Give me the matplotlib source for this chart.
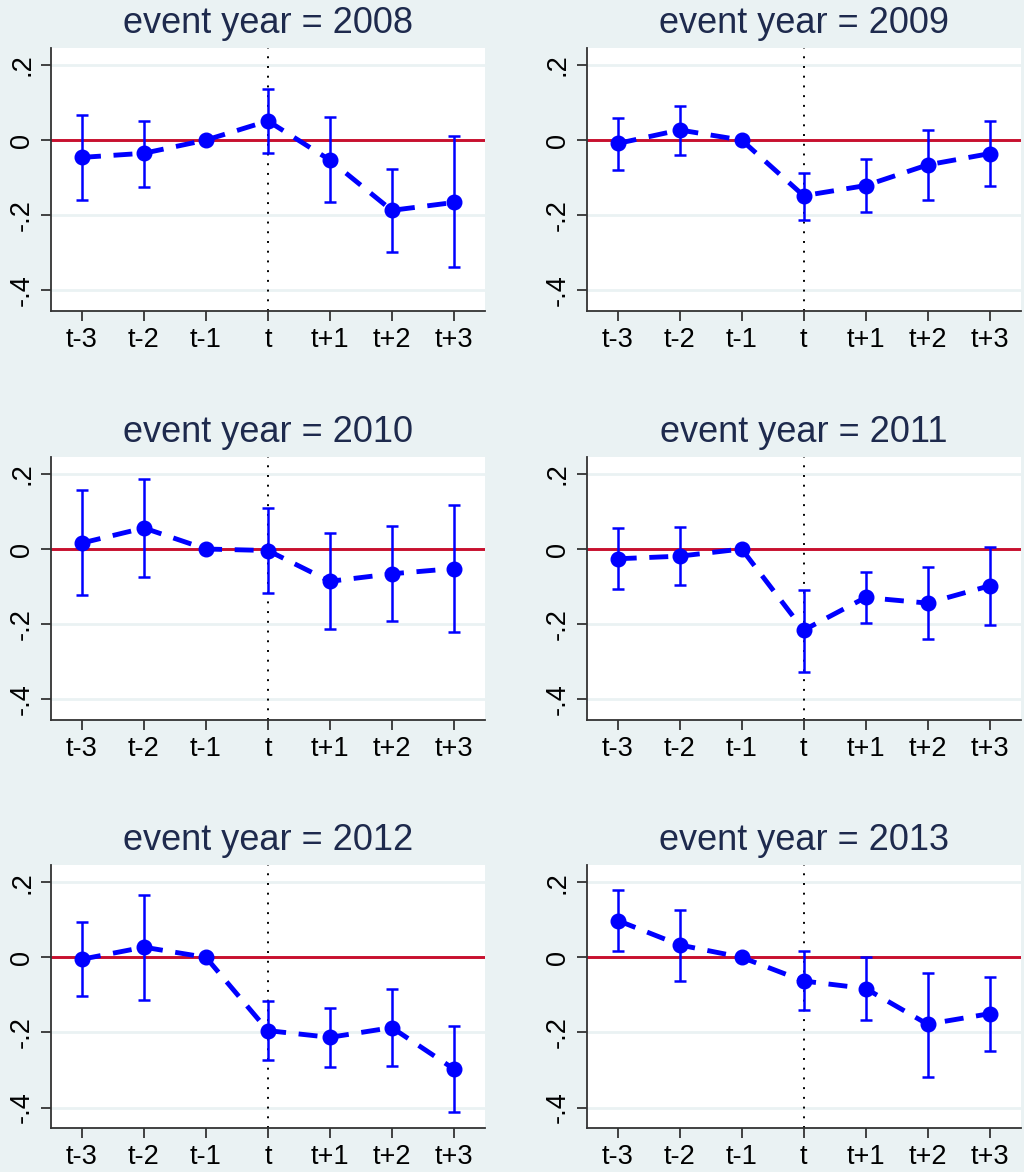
import numpy as np
import matplotlib
matplotlib.use('Agg')
import matplotlib.pyplot as plt

# event-time labels, t-1 is the omitted reference year
periods = ['t-3', 't-2', 't-1', 't', 't+1', 't+2', 't+3']
event_years = [2008, 2009, 2010, 2011, 2012, 2013]

# point estimates per event year
coef_2008 = [-0.046, -0.035, 0.0, 0.051, -0.053, -0.187, -0.166]
coef_2009 = [-0.009, 0.027, 0.0, -0.148, -0.121, -0.066, -0.036]
coef_2010 = [0.016, 0.056, 0.0, -0.004, -0.086, -0.066, -0.052]
coef_2011 = [-0.026, -0.019, 0.0, -0.216, -0.129, -0.144, -0.098]
coef_2012 = [-0.005, 0.027, 0.0, -0.195, -0.213, -0.187, -0.297]
coef_2013 = [0.098, 0.033, 0.0, -0.063, -0.083, -0.178, -0.150]

# 95% ci bounds (None for the reference year)
lo_2008 = [-0.159, -0.124, None, -0.035, -0.166, -0.298, -0.339]
hi_2008 = [0.066, 0.052, None, 0.137, 0.062, -0.077, 0.010]
lo_2009 = [-0.079, -0.040, None, -0.212, -0.191, -0.160, -0.121]
hi_2009 = [0.059, 0.091, None, -0.087, -0.050, 0.028, 0.051]
lo_2010 = [-0.123, -0.074, None, -0.117, -0.213, -0.191, -0.222]
hi_2010 = [0.158, 0.186, None, 0.109, 0.042, 0.060, 0.118]
lo_2011 = [-0.106, -0.095, None, -0.327, -0.198, -0.239, -0.202]
hi_2011 = [0.055, 0.059, None, -0.109, -0.062, -0.049, 0.006]
lo_2012 = [-0.103, -0.114, None, -0.272, -0.293, -0.289, -0.411]
hi_2012 = [0.093, 0.165, None, -0.117, -0.134, -0.085, -0.184]
lo_2013 = [0.016, -0.062, None, -0.141, -0.167, -0.318, -0.248]
hi_2013 = [0.178, 0.127, None, 0.016, 0.002, -0.041, -0.052]

coefs = [coef_2008, coef_2009, coef_2010, coef_2011, coef_2012, coef_2013]
lows = [lo_2008, lo_2009, lo_2010, lo_2011, lo_2012, lo_2013]
highs = [hi_2008, hi_2009, hi_2010, hi_2011, hi_2012, hi_2013]

yticks = [0.2, 0.0, -0.2, -0.4]
ytick_labels = ['.2', '0', '-.2', '-.4']

bg = '#eaf2f3'
blue = '#0000ff'
red = '#c8102e'
navy = '#1e2a4d'

plt.rcParams['font.family'] = ['Liberation Sans', 'DejaVu Sans']

fig = plt.figure(figsize=(10.24, 11.72), dpi=100, facecolor=bg)

# axes boxes in figure fractions: [left, bottom, width, height]
col_left = [0.0498, 0.573]
row_bottom = [0.7346, 0.3857, 0.0373]
ax_w = 0.4236
ax_h = 0.2244

x = np.arange(len(periods)) - 3

for k, yr in enumerate(event_years):
    r, c = divmod(k, 2)
    ax = fig.add_axes([col_left[c], row_bottom[r], ax_w, ax_h])
    ax.set_facecolor('white')

    # grid lines in the background colour
    for yv in yticks:
        ax.axhline(yv, color=bg, lw=2, zorder=0)

    ax.axhline(0, color=red, lw=2.1, zorder=1)
    ax.axvline(0, color='black', lw=1.4, linestyle=(0, (1, 4.0)), zorder=1)

    y = np.array(coefs[k])
    lo = lows[k]
    hi = highs[k]
    idx = [i for i in range(len(periods)) if lo[i] is not None]
    ylo = np.array([lo[i] for i in idx])
    yhi = np.array([hi[i] for i in idx])
    yc = y[idx]
    ax.errorbar(x[idx], yc, yerr=[yc - ylo, yhi - yc], fmt='none',
                ecolor=blue, elinewidth=1.8, capsize=4.4, capthick=1.8, zorder=2)

    ax.plot(x, y, color=blue, lw=3.5, dashes=(3.9, 2.6), marker='o',
            markersize=10.5, markerfacecolor=blue, markeredgecolor=blue, zorder=3)

    ax.set_xlim(-3.5, 3.5)
    ax.set_ylim(-0.455, 0.245)
    ax.set_xticks(x)
    ax.set_xticklabels(periods, fontsize=19.5)
    ax.set_yticks(yticks)
    ax.set_yticklabels(ytick_labels, fontsize=19.5, rotation=90, va='center')

    for s in ['top', 'right']:
        ax.spines[s].set_visible(False)
    for s in ['left', 'bottom']:
        ax.spines[s].set_color('#333333')
        ax.spines[s].set_linewidth(1.3)
    ax.tick_params(axis='both', length=7.5, width=1.3, color='#333333',
                   labelcolor='black', pad=4)

    ax.set_title('event year = %d' % yr, fontsize=26, color=navy, pad=11)

fig.savefig('out.png', dpi=100, facecolor=bg)
